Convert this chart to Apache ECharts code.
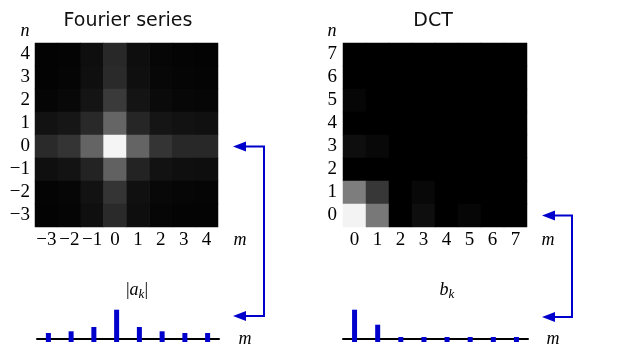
<!DOCTYPE html>
<html><head><meta charset="utf-8">
<script src="https://cdn.jsdelivr.net/npm/echarts@6/dist/echarts.min.js"></script>
<style>html,body{margin:0;padding:0;background:#fff}#c{width:636px;height:345px}</style>
</head><body><div id="c"></div>
<script>
// ---- data ----
const fourierM = ['−3','−2','−1','0','1','2','3','4'];
const fourierN = ['−3','−2','−1','0','1','2','3','4'];
// gray levels (0-255), rows from n=4 (top) down to n=-3 (bottom), columns m=-3..4
const fourierRows = [
  [3, 4, 14, 40, 14, 6, 4, 3],
  [3, 5, 15, 42, 15, 7, 5, 4],
  [5, 8, 20, 58, 20, 10, 7, 6],
  [18, 22, 41, 101, 38, 21, 18, 16],
  [42, 52, 100, 245, 100, 52, 40, 40],
  [15, 19, 35, 97, 35, 18, 15, 14],
  [4, 6, 18, 52, 16, 8, 6, 5],
  [3, 5, 15, 42, 14, 6, 4, 4]
];
const dctM = ['0','1','2','3','4','5','6','7'];
const dctN = ['0','1','2','3','4','5','6','7'];
// rows from n=7 (top) down to n=0 (bottom), columns m=0..7
const dctRows = [
  [0, 0, 0, 0, 0, 0, 0, 0],
  [0, 0, 0, 0, 0, 0, 0, 0],
  [6, 0, 0, 0, 0, 0, 0, 0],
  [0, 0, 0, 0, 0, 0, 0, 0],
  [14, 8, 0, 0, 0, 0, 0, 0],
  [0, 0, 0, 0, 0, 0, 0, 0],
  [125, 55, 0, 8, 0, 0, 0, 0],
  [243, 120, 0, 14, 0, 6, 0, 0]
];
const aMag = [6, 7.7, 12, 29.3, 12, 7.7, 6, 6];
const bMag = [29.3, 14.3, 2, 2, 2, 2, 2, 2];

// ---- build ----
function toCells(rows) {
  const out = [];
  const nRows = rows.length;
  rows.forEach((row, r) => row.forEach((v, c) => out.push([c, nRows - 1 - r, v])));
  return out;
}
const BLUE = '#0000cd';
const serif = 'Liberation Serif';
const chart = echarts.init(document.getElementById('c'), null, {renderer: 'canvas'});

function hmX(grid, data) {
  return {type: 'category', gridIndex: grid, data: data, axisLine: {show: false}, axisTick: {show: false},
    splitLine: {show: false}, axisLabel: {fontFamily: serif, fontSize: 19, color: '#000', margin: 4, interval: 0}};
}
function hmY(grid, data, margin) {
  return {type: 'category', gridIndex: grid, data: data, axisLine: {show: false}, axisTick: {show: false},
    splitLine: {show: false}, axisLabel: {fontFamily: serif, fontSize: 19, color: '#000', margin: margin, interval: 0}};
}
function barX(grid, n) {
  return {type: 'category', gridIndex: grid, data: Array.from({length: n}, (_, i) => i),
    axisLine: {show: true, onZero: true, lineStyle: {color: '#000', width: 2}}, axisTick: {show: false}, axisLabel: {show: false}};
}
function barY(grid) {
  return {type: 'value', gridIndex: grid, min: -3, max: 37, show: false, splitLine: {show: false}};
}

const stemBase = aMag.map(() => -3);

chart.setOption({
  animation: false,
  backgroundColor: '#fff',
  grid: [
    {left: 35, top: 43, width: 183, height: 184},
    {left: 343, top: 43, width: 184, height: 184},
    {left: 37, top: 302, width: 182, height: 40},
    {left: 343, top: 302, width: 185, height: 40}
  ],
  xAxis: [hmX(0, fourierM), hmX(1, dctM), barX(2, aMag.length), barX(3, bMag.length)],
  yAxis: [hmY(0, fourierN, 5), hmY(1, dctN, 6), barY(2), barY(3)],
  visualMap: [{type: 'continuous', show: false, min: 0, max: 255, seriesIndex: [0, 1], inRange: {color: ['#000000', '#ffffff']}}],
  series: [
    {type: 'heatmap', xAxisIndex: 0, yAxisIndex: 0, data: toCells(fourierRows), emphasis: {disabled: true}},
    {type: 'heatmap', xAxisIndex: 1, yAxisIndex: 1, data: toCells(dctRows), emphasis: {disabled: true}},
    {type: 'bar', xAxisIndex: 2, yAxisIndex: 2, data: aMag, barWidth: 5, itemStyle: {color: BLUE}, silent: true},
    {type: 'bar', xAxisIndex: 2, yAxisIndex: 2, data: stemBase, barWidth: 5, barGap: '-100%', itemStyle: {color: BLUE}, silent: true},
    {type: 'bar', xAxisIndex: 3, yAxisIndex: 3, data: bMag, barWidth: 5, itemStyle: {color: BLUE}, silent: true},
    {type: 'bar', xAxisIndex: 3, yAxisIndex: 3, data: stemBase, barWidth: 5, barGap: '-100%', itemStyle: {color: BLUE}, silent: true}
  ]
});

// ---- annotations ----
const rowL = chart.convertToPixel({xAxisIndex: 0, yAxisIndex: 0}, [0, 3])[1];
const rowR = chart.convertToPixel({xAxisIndex: 1, yAxisIndex: 1}, [0, 0])[1];
function arrow(xv, xTip, yTop, yBot) {
  const hl = 13, hw = 5;
  return [
    {type: 'polyline', shape: {points: [[xTip + hl - 1, yTop], [xv, yTop], [xv, yBot], [xTip + hl - 1, yBot]]},
      style: {stroke: BLUE, lineWidth: 2, fill: null}},
    {type: 'polygon', shape: {points: [[xTip, yTop], [xTip + hl, yTop - hw], [xTip + hl, yTop + hw]]}, style: {fill: BLUE}},
    {type: 'polygon', shape: {points: [[xTip, yBot], [xTip + hl, yBot - hw], [xTip + hl, yBot + hw]]}, style: {fill: BLUE}}
  ];
}
function txt(x, y, text, font, extra) {
  return {type: 'text', x: x, y: y, style: Object.assign({text: text, font: font, fill: '#000', align: 'center', verticalAlign: 'middle'}, extra || {})};
}
const italic = 'italic 18px "Liberation Serif"';
const richSub = {
  i: {fontFamily: serif, fontStyle: 'italic', fontSize: 18, lineHeight: 22},
  u: {fontFamily: serif, fontSize: 18, lineHeight: 22},
  s: {fontFamily: serif, fontStyle: 'italic', fontSize: 13, lineHeight: 14, verticalAlign: 'bottom'}
};
chart.setOption({
  graphic: [
    txt(128, 21, 'Fourier series', '19px "DejaVu Sans"', {fill: '#111'}),
    txt(433, 21, 'DCT', '19px "DejaVu Sans"', {fill: '#111'}),
    txt(25, 31, 'n', italic),
    txt(332, 31, 'n', italic),
    txt(240, 240, 'm', italic),
    txt(548, 240, 'm', italic),
    txt(245, 339, 'm', italic),
    txt(553, 339, 'm', italic),
    {type: 'text', x: 137, y: 290, style: {text: '{u||}{i|a}{s|k}{u||}', rich: richSub, align: 'center', verticalAlign: 'middle', fill: '#000'}},
    {type: 'text', x: 447, y: 290, style: {text: '{i|b}{s|k}', rich: richSub, align: 'center', verticalAlign: 'middle', fill: '#000'}}
  ].concat(arrow(264, 233, rowL, 316), arrow(572, 542, rowR, 317))
});
</script>
</body></html>
